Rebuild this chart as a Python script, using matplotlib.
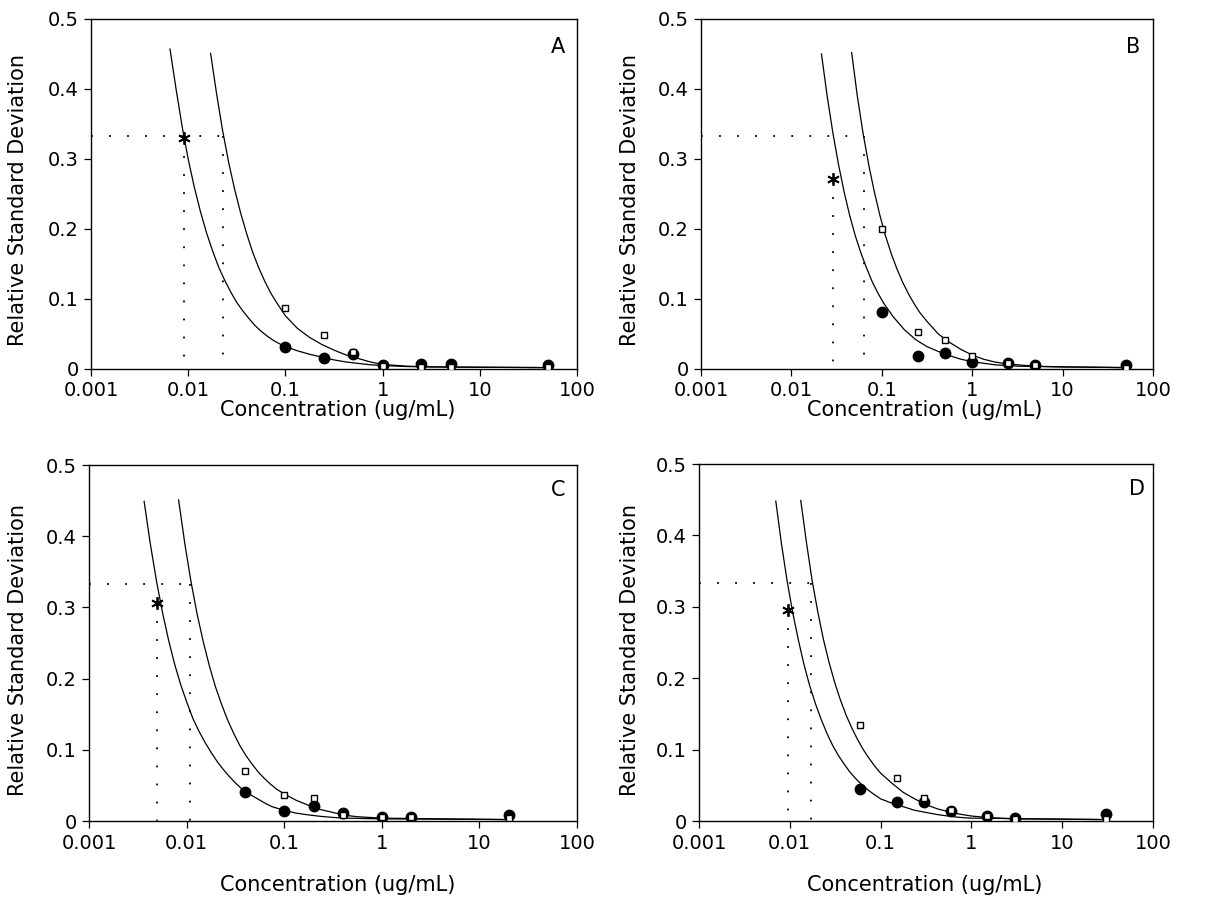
import matplotlib
matplotlib.use("Agg")
import matplotlib.pyplot as plt

plt.rcParams['font.family'] = ['DejaVu Sans']

# ---------------- data ----------------
panel_letters = ["A", "B", "C", "D"]
x_tick_vals = [0.001, 0.01, 0.1, 1, 10, 100]
x_tick_labels = ["0.001", "0.01", "0.1", "1", "10", "100"]
y_tick_vals = [0, 0.1, 0.2, 0.3, 0.4, 0.5]
y_tick_labels = ["0", "0.1", "0.2", "0.3", "0.4", "0.5"]
rsd_limit = 1 / 3

# Panel A
a_conc = [0.1, 0.25, 0.5, 1, 2.5, 5, 50]
a_circ = [0.031, 0.016, 0.022, 0.006, 0.007, 0.007, 0.005]
a_sq = [0.087, 0.049, 0.024, 0.004, 0.003, 0.003, 0.003]
a_star = (0.0091, 0.33)
a_upper_x_at_limit = 0.0228
a_low_x = [0.0065, 0.0075, 0.0087, 0.010, 0.0115, 0.0133, 0.0154, 0.0178, 0.0205,
           0.0237, 0.0274, 0.0316, 0.0365, 0.0422, 0.0487, 0.0562, 0.065, 0.075,
           0.087, 0.1, 0.133, 0.178, 0.237, 0.316, 0.422, 0.562, 0.75, 1, 1.78,
           3.16, 10, 50]
a_low_y = [0.457, 0.40, 0.345, 0.30, 0.261, 0.226, 0.195, 0.169, 0.146, 0.127,
           0.110, 0.095, 0.083, 0.072, 0.062, 0.054, 0.047, 0.041, 0.036, 0.032,
           0.026, 0.021, 0.017, 0.013, 0.010, 0.008, 0.006, 0.005, 0.0035, 0.003,
           0.0025, 0.002]
a_up_x = [0.017, 0.0195, 0.0225, 0.026, 0.030, 0.0346, 0.040, 0.046, 0.053, 0.0615,
          0.071, 0.082, 0.1, 0.133, 0.178, 0.237, 0.316, 0.422, 0.562, 0.75, 1,
          1.78, 3.16, 10, 50]
a_up_y = [0.451, 0.395, 0.342, 0.296, 0.257, 0.223, 0.193, 0.167, 0.145, 0.125,
          0.108, 0.094, 0.076, 0.058, 0.045, 0.035, 0.027, 0.020, 0.015, 0.010,
          0.0065, 0.004, 0.003, 0.0025, 0.002]

# Panel B
b_conc = [0.1, 0.25, 0.5, 1, 2.5, 5, 50]
b_circ = [0.081, 0.019, 0.023, 0.010, 0.008, 0.006, 0.006]
b_sq = [0.200, 0.053, 0.041, 0.019, 0.008, 0.006, 0.002]
b_star = (0.029, 0.272)
b_upper_x_at_limit = 0.063
b_low_x = [0.0215, 0.0248, 0.0287, 0.0331, 0.0383, 0.0442, 0.051, 0.059, 0.068,
           0.0787, 0.091, 0.105, 0.133, 0.178, 0.237, 0.316, 0.422, 0.562, 0.75,
           1, 1.78, 3.16, 10, 50]
b_low_y = [0.450, 0.391, 0.338, 0.293, 0.253, 0.219, 0.190, 0.165, 0.144, 0.124,
           0.108, 0.094, 0.075, 0.056, 0.042, 0.032, 0.025, 0.019, 0.014, 0.0105,
           0.006, 0.004, 0.003, 0.002]
b_up_x = [0.0464, 0.0536, 0.062, 0.0716, 0.0827, 0.0955, 0.11, 0.127, 0.147, 0.17,
          0.196, 0.226, 0.262, 0.316, 0.422, 0.562, 0.75, 1, 1.33, 1.78, 2.37,
          3.16, 5, 10, 50]
b_up_y = [0.452, 0.390, 0.337, 0.292, 0.253, 0.219, 0.190, 0.165, 0.143, 0.124,
          0.108, 0.094, 0.081, 0.068, 0.050, 0.038, 0.028, 0.020, 0.014, 0.010,
          0.0075, 0.006, 0.004, 0.003, 0.002]

# Panel C
c_conc = [0.04, 0.1, 0.2, 0.4, 1, 2, 20]
c_circ = [0.041, 0.014, 0.021, 0.011, 0.006, 0.005, 0.009]
c_sq = [0.070, 0.037, 0.032, 0.008, 0.005, 0.005, 0.004]
c_star = (0.005, 0.306)
c_upper_x_at_limit = 0.0109
c_low_x = [0.00367, 0.00424, 0.0049, 0.00566, 0.00654, 0.00755, 0.00872, 0.0101,
           0.0116, 0.0134, 0.0155, 0.0179, 0.0207, 0.0239, 0.0276, 0.0319, 0.0368,
           0.0425, 0.0491, 0.0567, 0.0655, 0.0756, 0.1, 0.133, 0.178, 0.237, 0.316,
           0.422, 1, 20]
c_low_y = [0.449, 0.390, 0.338, 0.293, 0.254, 0.220, 0.191, 0.166, 0.144, 0.126,
           0.110, 0.096, 0.083, 0.072, 0.062, 0.053, 0.045, 0.039, 0.034, 0.029,
           0.024, 0.020, 0.015, 0.011, 0.0085, 0.0065, 0.005, 0.004, 0.003, 0.002]
c_up_x = [0.00828, 0.0096, 0.0111, 0.0128, 0.0148, 0.0171, 0.0197, 0.0228, 0.0263,
          0.0304, 0.0351, 0.0405, 0.0468, 0.054, 0.0624, 0.072, 0.0832, 0.1, 0.133,
          0.178, 0.237, 0.316, 0.422, 0.562, 1, 20]
c_up_y = [0.451, 0.389, 0.336, 0.291, 0.252, 0.218, 0.189, 0.164, 0.142, 0.123,
          0.106, 0.092, 0.080, 0.069, 0.060, 0.052, 0.045, 0.038, 0.029, 0.022,
          0.016, 0.012, 0.008, 0.006, 0.004, 0.002]

# Panel D
d_conc = [0.06, 0.15, 0.3, 0.6, 1.5, 3, 30]
d_circ = [0.045, 0.026, 0.026, 0.014, 0.007, 0.004, 0.010]
d_sq = [0.135, 0.060, 0.032, 0.016, 0.0066, 0.003, 0.003]
d_star = (0.0095, 0.295)
d_upper_x_at_limit = 0.0173
d_low_x = [0.00701, 0.0081, 0.00935, 0.0108, 0.0125, 0.0144, 0.0166, 0.0192, 0.0222,
           0.0256, 0.0296, 0.0342, 0.0395, 0.0456, 0.0526, 0.0608, 0.0702, 0.081,
           0.1, 0.133, 0.178, 0.237, 0.316, 0.422, 0.562, 0.75, 1, 30]
d_low_y = [0.448, 0.388, 0.336, 0.291, 0.252, 0.218, 0.189, 0.164, 0.142, 0.123,
           0.106, 0.092, 0.080, 0.069, 0.060, 0.052, 0.045, 0.039, 0.031, 0.025,
           0.020, 0.015, 0.012, 0.009, 0.0068, 0.005, 0.004, 0.002]
d_up_x = [0.0132, 0.0153, 0.0176, 0.0204, 0.0235, 0.0272, 0.0314, 0.0362, 0.0418,
          0.0483, 0.0558, 0.0644, 0.0744, 0.086, 0.1, 0.133, 0.178, 0.237, 0.316,
          0.422, 0.562, 0.75, 1, 1.5, 3, 30]
d_up_y = [0.449, 0.389, 0.337, 0.292, 0.254, 0.221, 0.193, 0.169, 0.148, 0.130,
          0.114, 0.100, 0.088, 0.077, 0.067, 0.053, 0.040, 0.031, 0.023, 0.017,
          0.013, 0.0095, 0.007, 0.0048, 0.003, 0.002]

panels = [
    dict(conc=a_conc, circ=a_circ, sq=a_sq, star=a_star, ux=a_upper_x_at_limit,
         lx=a_low_x, ly=a_low_y, upx=a_up_x, upy=a_up_y),
    dict(conc=b_conc, circ=b_circ, sq=b_sq, star=b_star, ux=b_upper_x_at_limit,
         lx=b_low_x, ly=b_low_y, upx=b_up_x, upy=b_up_y),
    dict(conc=c_conc, circ=c_circ, sq=c_sq, star=c_star, ux=c_upper_x_at_limit,
         lx=c_low_x, ly=c_low_y, upx=c_up_x, upy=c_up_y),
    dict(conc=d_conc, circ=d_circ, sq=d_sq, star=d_star, ux=d_upper_x_at_limit,
         lx=d_low_x, ly=d_low_y, upx=d_up_x, upy=d_up_y),
]

# ---------------- layout (pixels of 1215x897) ----------------
W, H = 1215, 897
boxes = [(91, 19, 577, 369), (701, 19, 1153, 369),
         (89, 465, 577, 821), (699, 464, 1153, 821)]
letter_pos = [(0.961, 0.92), (0.956, 0.92), (0.961, 0.93), (0.965, 0.93)]
xlabel_px = [(338, 410), (925, 410), (338, 885), (925, 885)]
ylabel_px = [(18, 200), (630, 200), (18, 650), (630, 650)]

fig = plt.figure(figsize=(W / 100, H / 100), dpi=100)
dot_style = (0, (1, 9))

for i, p in enumerate(panels):
    l, t, r, b = boxes[i]
    ax = fig.add_axes([l / W, 1 - b / H, (r - l) / W, (b - t) / H])
    ax.set_xscale('log')
    ax.set_xlim(0.001, 100)
    ax.set_ylim(0, 0.5)

    # dotted guide lines
    ax.plot([0.001, p['ux']], [rsd_limit, rsd_limit], color='black', lw=1.3,
            linestyle=dot_style, zorder=1)
    ax.plot([p['ux'], p['ux']], [rsd_limit, 0], color='black', lw=1.3,
            linestyle=dot_style, zorder=1)
    ax.plot([p['star'][0], p['star'][0]], [p['star'][1], 0], color='black', lw=1.3,
            linestyle=dot_style, zorder=1)

    # fitted curves
    ax.plot(p['lx'], p['ly'], color='black', lw=0.9, zorder=2)
    ax.plot(p['upx'], p['upy'], color='black', lw=0.9, zorder=2)

    # data
    ax.plot(p['conc'], p['circ'], linestyle='none', marker='o', markersize=7.5,
            markerfacecolor='black', markeredgecolor='black', zorder=3)
    ax.plot(p['conc'], p['sq'], linestyle='none', marker='s', markersize=5,
            markerfacecolor='white', markeredgecolor='black', markeredgewidth=1.0,
            zorder=4)
    ax.plot([p['star'][0]], [p['star'][1]], linestyle='none', marker=(6, 2, 0),
            markersize=9, markeredgecolor='black', markeredgewidth=1.3, zorder=5)

    ax.set_xticks(x_tick_vals)
    ax.set_xticklabels(x_tick_labels)
    ax.set_yticks(y_tick_vals)
    ax.set_yticklabels(y_tick_labels)
    ax.minorticks_off()
    ax.tick_params(axis='both', direction='out', length=5, width=0.9,
                   labelsize=14, pad=4)
    for s in ax.spines.values():
        s.set_linewidth(1.0)

    ax.text(letter_pos[i][0], letter_pos[i][1], panel_letters[i],
            transform=ax.transAxes, ha='center', va='center', fontsize=15)

    xl = xlabel_px[i]
    fig.text(xl[0] / W, 1 - xl[1] / H, "Concentration (ug/mL)", ha='center',
             va='center', fontsize=15)
    yl = ylabel_px[i]
    fig.text(yl[0] / W, 1 - yl[1] / H, "Relative Standard Deviation", ha='center',
             va='center', rotation=90, fontsize=15)

fig.savefig("out.png", dpi=100)
